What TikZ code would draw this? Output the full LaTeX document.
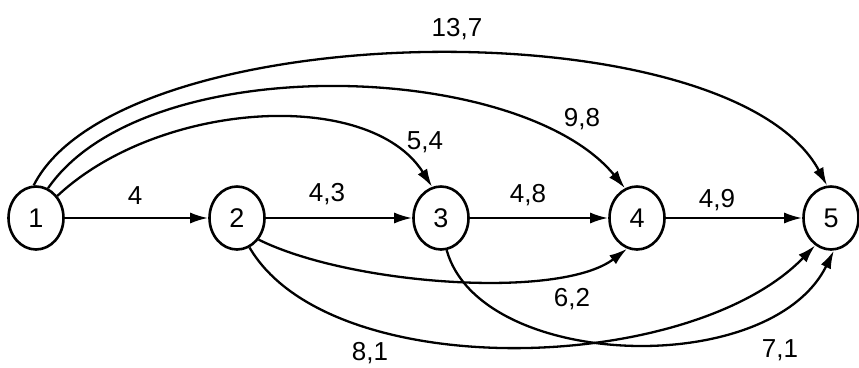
\documentclass[tikz,border=0pt]{standalone}
\usepackage{fontspec}
\setmainfont{Liberation Sans}
\usetikzlibrary{arrows.meta,shapes.geometric}
\begin{document}
\begin{tikzpicture}[x=1pt,y=-1pt,
  vtx/.style={draw,ellipse,line width=2.6pt,minimum width=55pt,minimum height=63pt,inner sep=0pt,font=\fontsize{27}{30}\selectfont},
  lbl/.style={font=\fontsize{26}{30}\selectfont,inner sep=0pt,text height=18.5pt,text depth=0pt},
  edge/.style={line width=2.3pt,-{Latex[length=18pt,width=11pt]}}]
\useasboundingbox (0,0) rectangle (859,367);
\node[vtx] (n1) at (36,218) {1};
\node[vtx] (n2) at (237,218) {2};
\node[vtx] (n3) at (441,218) {3};
\node[vtx] (n4) at (637,218) {4};
\node[vtx] (n5) at (831,218) {5};
\draw[edge] (n1) -- (n2);
\draw[edge] (n2) -- (n3);
\draw[edge] (n3) -- (n4);
\draw[edge] (n4) -- (n5);
\draw[edge] (n1.94) .. controls (120,15) and (730,5) .. (n5.97);
\draw[edge] (n1.68) .. controls (145,48) and (520,60) .. (n4.112);
\draw[edge] (n1.46) .. controls (160,100) and (370,88) .. (n3.106);
\draw[edge] (n2.-45) .. controls (350,285) and (560,300) .. (n4.-108);
\draw[edge] (n2.-67) .. controls (330,385) and (690,375) .. (n5.-120);
\draw[edge] (n3.-80) .. controls (480,370) and (770,380) .. (n5.-85);
\node[lbl] (l15) at (457,27) {13,7};
\node[lbl] (l14) at (582,117) {9,8};
\node[lbl] (l13) at (425,140) {5,4};
\node[lbl] (l12) at (135,195) {4};
\node[lbl] (l23) at (327,192) {4,3};
\node[lbl] (l34) at (528,193) {4,8};
\node[lbl] (l45) at (717,198) {4,9};
\node[lbl] (l24) at (572,297) {6,2};
\node[lbl] (l25) at (370,351) {8,1};
\node[lbl] (l35) at (780,348) {7,1};
\end{tikzpicture}
\end{document}
